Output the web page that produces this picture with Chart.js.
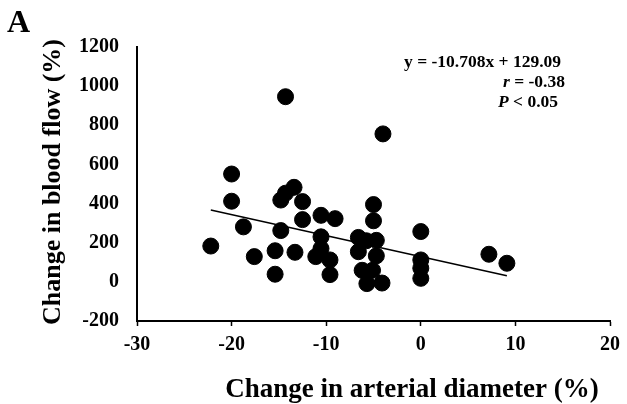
<!DOCTYPE html>
<html lang="en">
<head>
    <meta charset="UTF-8">
    <title>Change in blood flow vs arterial diameter</title>
    <script src="https://cdn.jsdelivr.net/npm/chart.js"></script>
    <style>
        html, body { margin: 0; padding: 0; background: #fff; }
        #wrap { width: 627px; height: 404px; position: relative; }
    </style>
</head>
<body>
<div id="wrap"><canvas id="flowChart" width="627" height="404"></canvas></div>
<script>
    // change in arterial diameter (%) and change in blood flow (%)
    const diameterChange = [-22.2, -20.0, -20.0, -18.75, -17.6, -15.4, -15.4, -14.8, -14.8, -14.3,
        -13.4, -12.5, -12.5, -13.3, -11.1, -10.55, -9.06, -10.55, -10.55, -9.6,
        -9.6, -5.0, -5.0, -6.6, -6.6, -5.76, -4.7, -4.7, -6.2, -5.1,
        -5.7, -4.1, -14.3, -4.0, 0, 0, 0, 0, 7.2, 9.1];
    const flowChange = [183, 551, 412, 281, 129, 159, 39, 262, 418, 453,
        483, 410, 318, 151, 129, 340, 323, 230, 170, 112,
        37, 395, 312, 227, 154, 210, 212, 133, 59, 59,
        -9, -6, 946, 756, 257, 112, 70, 18, 141, 95];

    // fitted line y = -10.708x + 129.09
    const slope = -10.708;
    const intercept = 129.09;
    const fitRange = [-22.2, 9.1];

    const xTicks = [-30, -20, -10, 0, 10, 20];
    const yTicks = [-200, 0, 200, 400, 600, 800, 1000, 1200];

    const statLines = ['y = -10.708x + 129.09', 'r = -0.38', 'P < 0.05'];

    const serif = "'Liberation Serif', 'Times New Roman', serif";

    const points = diameterChange.map((d, i) => ({ x: d, y: flowChange[i] }));
    const fitLine = fitRange.map(x => ({ x: x, y: slope * x + intercept }));

    const textPlugin = {
        id: 'texts',
        afterDraw(chart) {
            const c = chart.ctx;
            c.save();
            c.fillStyle = '#000';
            c.textBaseline = 'alphabetic';

            c.font = 'bold 32px ' + serif;
            c.textAlign = 'left';
            c.fillText('A', 7, 32);

            c.font = 'bold 27px ' + serif;
            c.textAlign = 'center';
            c.fillText('Change in arterial diameter (%)', 412, 397);

            c.font = 'bold 26px ' + serif;
            c.save();
            c.translate(60, 182);
            c.rotate(-Math.PI / 2);
            c.fillText('Change in blood flow (%)', 0, 0);
            c.restore();

            // stats box
            const sz = 'bold 17.5px ' + serif;
            const szi = 'italic bold 17.5px ' + serif;
            c.font = sz;
            c.textAlign = 'left';
            c.fillText(statLines[0], 404, 67);

            let x = 503;
            c.font = szi;
            c.fillText('r', x, 87);
            x += c.measureText('r').width;
            c.font = sz;
            c.fillText(statLines[1].slice(1), x, 87);

            x = 498;
            c.font = szi;
            c.fillText('P', x, 107);
            x += c.measureText('P').width;
            c.font = sz;
            c.fillText(statLines[2].slice(1), x, 107);
            c.restore();
        }
    };

    new Chart(document.getElementById('flowChart'), {
        type: 'scatter',
        data: {
            datasets: [{
                data: points,
                backgroundColor: '#000',
                borderColor: '#000',
                borderWidth: 1,
                pointRadius: 8,
                order: 2
            }, {
                type: 'line',
                data: fitLine,
                borderColor: '#000',
                borderWidth: 1.5,
                pointRadius: 0,
                fill: false,
                order: 1
            }]
        },
        options: {
            responsive: false,
            animation: false,
            layout: { padding: { left: 0, right: 10, top: 47, bottom: 0 } },
            plugins: {
                legend: { display: false },
                tooltip: { enabled: false }
            },
            scales: {
                x: {
                    type: 'linear',
                    min: -30,
                    max: 20,
                    afterBuildTicks: s => { s.ticks = xTicks.map(v => ({ value: v })); },
                    afterFit: s => { s.height = 83; },
                    ticks: {
                        color: '#000',
                        padding: 7,
                        callback: v => String(v),
                        font: { family: serif, size: 20, weight: 'bold' }
                    },
                    grid: {
                        drawOnChartArea: false,
                        drawTicks: true,
                        tickLength: 5,
                        tickWidth: 1.5,
                        tickColor: '#000'
                    },
                    border: { color: '#000', width: 2 }
                },
                y: {
                    min: -200,
                    max: 1200,
                    afterBuildTicks: s => { s.ticks = yTicks.map(v => ({ value: v })); },
                    afterFit: s => { s.width = 137; },
                    ticks: {
                        color: '#000',
                        padding: 18,
                        callback: v => String(v),
                        font: { family: serif, size: 20, weight: 'bold' }
                    },
                    grid: { drawOnChartArea: false, drawTicks: false },
                    border: { color: '#000', width: 2 }
                }
            }
        },
        plugins: [textPlugin]
    });
</script>
</body>
</html>
